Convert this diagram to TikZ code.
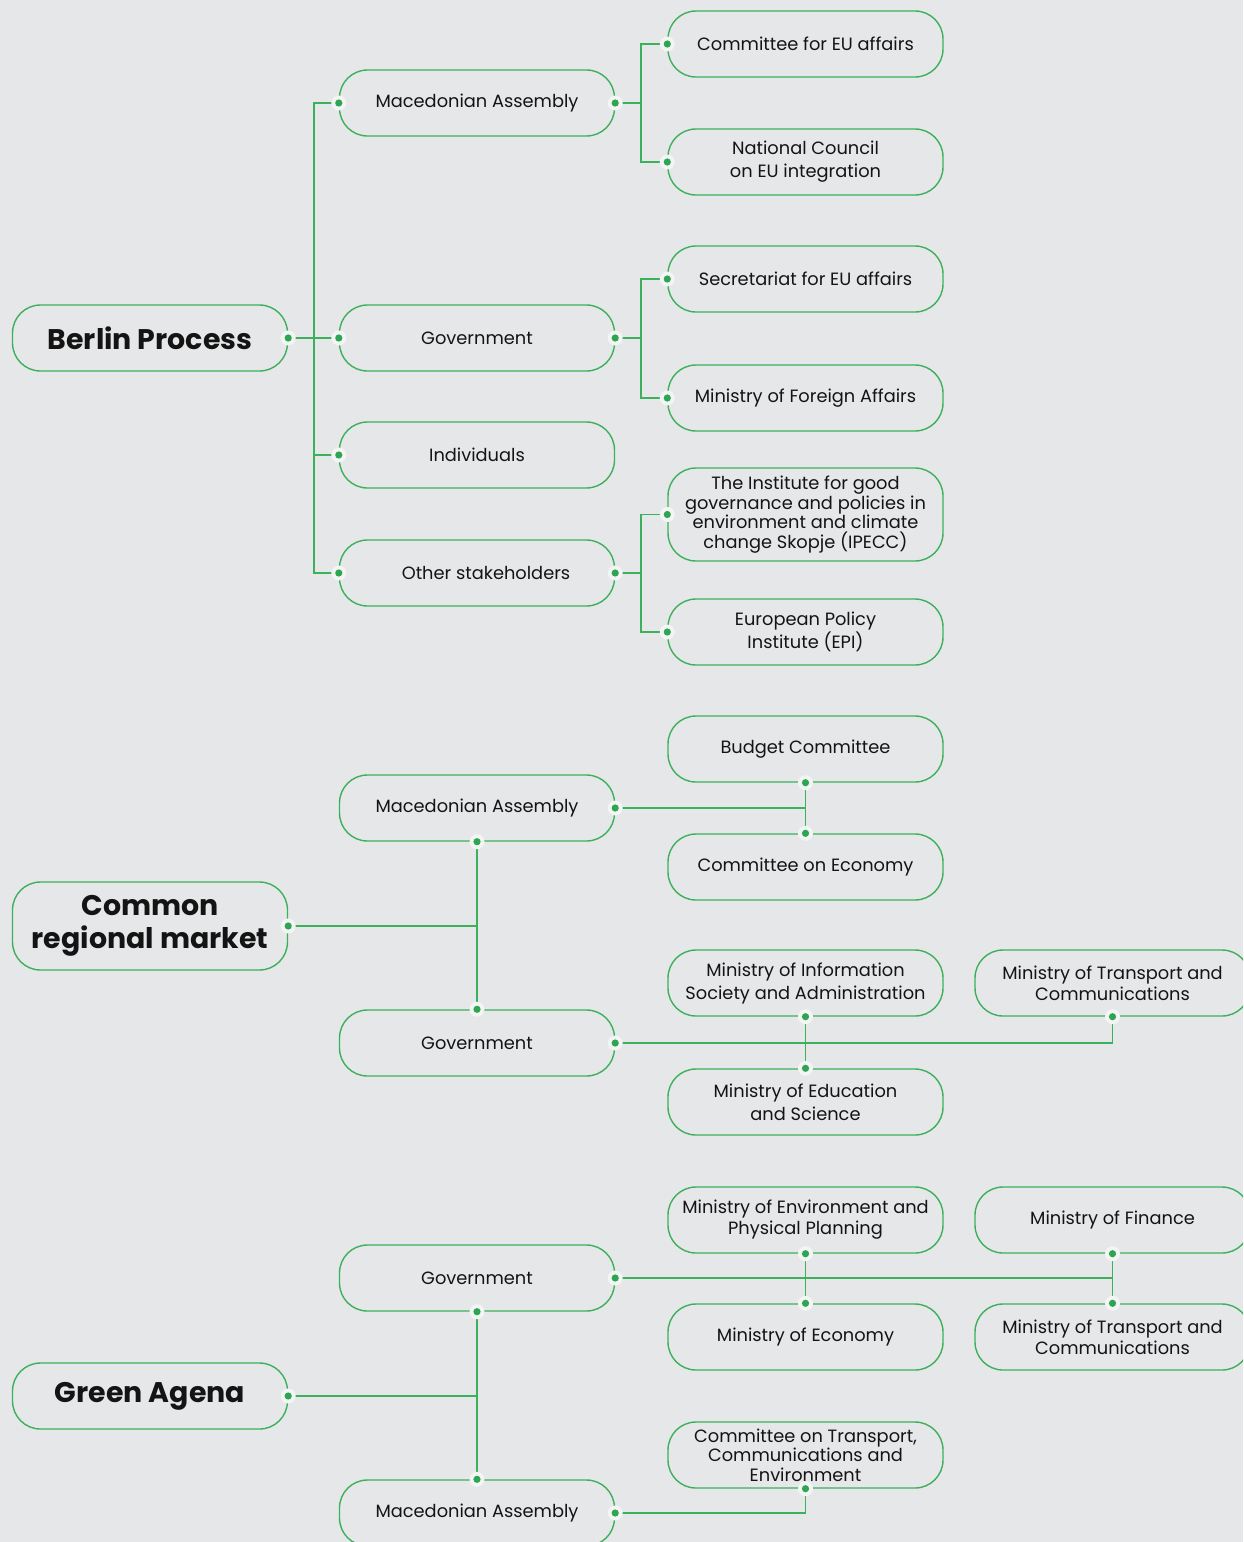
\documentclass[tikz,border=0pt]{standalone}
\usepackage{fontspec}
\setmainfont{Poppins}
\definecolor{bg}{HTML}{E6E7E8}
\definecolor{bordergreen}{HTML}{3DB05C}
\definecolor{dotgreen}{HTML}{2EA552}
\definecolor{halo}{HTML}{F3F4F4}
\definecolor{txt}{HTML}{141414}
\tikzset{
  box/.style={draw=bordergreen, line width=1.4pt, rounded corners=28pt,
    minimum width=275pt, minimum height=66pt, align=center, inner sep=2pt,
    text=txt, font=\fontsize{17.8}{23}\selectfont},
  tightbox/.style={box, font=\fontsize{17.8}{19.5}\selectfont},
  midbox/.style={box, font=\fontsize{17.8}{21}\selectfont},
  titlebox/.style={box, font=\fontsize{28.4}{33}\selectfont\bfseries},
  conn/.style={draw=bordergreen, line width=1.3pt},
}
\begin{document}
\begin{tikzpicture}[x=1pt,y=-1pt]
\fill[bg] (0,0) rectangle (1243,1542);
\useasboundingbox (0,0) rectangle (1243,1542);
\clip (0,0) rectangle (1243,1542);

% ---------- Berlin Process ----------
\node[titlebox] (BP) at (150,338) {Berlin Process};
\node[box] (MA1) at (477,103) {Macedonian Assembly};
\node[box] (Gov1) at (477,338) {Government};
\node[box] (Ind) at (477,455) {Individuals};
\node[box] (Oth) at (477,573) {\hspace*{18pt}Other stakeholders};
\node[box] (C1) at (805.5,44) {Committee for EU affairs};
\node[box] (NC) at (805.5,162) {National Council\\on EU integration};
\node[box] (Sec) at (805.5,279) {Secretariat for EU affairs};
\node[box] (MFA) at (805.5,398) {Ministry of Foreign Affairs};
\node[tightbox, minimum height=93pt] (IP) at (805.5,514.5) {The Institute for good\\governance and policies in\\environment and climate\\change Skopje (IPECC)};
\node[box] (EPI) at (805.5,632) {European Policy\\Institute (EPI)};

\coordinate (t1) at (314,338);
\draw[conn] (BP.east) -- (Gov1.west);
\draw[conn] (MA1.west) -| (t1) |- (Oth.west);
\draw[conn] (Ind.west) -- (Ind.west -| t1);

\coordinate (ta) at (641,103);
\coordinate (tb) at (641,338);
\coordinate (tc) at (641,573);
\draw[conn] (MA1.east) -- (ta);
\draw[conn] (C1.west) -| (ta) |- (NC.west);
\draw[conn] (Gov1.east) -- (tb);
\draw[conn] (Sec.west) -| (tb) |- (MFA.west);
\draw[conn] (Oth.east) -- (tc);
\draw[conn] (IP.west) -| (tc) |- (EPI.west);

% ---------- Common regional market ----------
\node[titlebox, minimum height=88pt] (CRM) at (150,926) {Common\\regional market};
\node[box] (MA2) at (477,808) {Macedonian Assembly};
\node[box] (Gov2) at (477,1043) {Government};
\node[box] (Bud) at (805.5,749) {Budget Committee};
\node[box] (CEc) at (805.5,867) {Committee on Economy};
\node[box] (MISA) at (805.5,983) {Ministry of Information\\Society and Administration};
\node[box] (MES) at (805.5,1102) {Ministry of Education\\and Science};
\node[midbox] (MTC1) at (1112.5,983) {Ministry of Transport and\\Communications};

\draw[conn] (CRM.east) -- (CRM.east -| MA2.south);
\draw[conn] (MA2.south) -- (Gov2.north);
\draw[conn] (MA2.east) -- (MA2.east -| Bud.south);
\draw[conn] (Bud.south) -- (CEc.north);
\draw[conn] (Gov2.east) -| (MTC1.south);
\draw[conn] (MISA.south) -- (MES.north);

% ---------- Green Agena ----------
\node[titlebox] (GA) at (150,1396) {Green Agena};
\node[box] (Gov3) at (477,1278) {Government};
\node[box] (MA3) at (477,1513) {Macedonian Assembly};
\node[midbox] (MEPP) at (805.5,1220) {Ministry of Environment and\\Physical Planning};
\node[box] (MF) at (1112.5,1220) {Ministry of Finance};
\node[box] (MEc) at (805.5,1337) {Ministry of Economy};
\node[midbox] (MTC2) at (1112.5,1337) {Ministry of Transport and\\Communications};
\node[tightbox] (CT) at (805.5,1455) {Committee on Transport,\\Communications and\\Environment};

\draw[conn] (GA.east) -- (GA.east -| Gov3.south);
\draw[conn] (Gov3.south) -- (MA3.north);
\draw[conn] (Gov3.east) -- (Gov3.east -| MF.south);
\draw[conn] (MEPP.south) -- (MEc.north);
\draw[conn] (MF.south) -- (MTC2.north);
\draw[conn] (MA3.east) -| (CT.south);

% ---------- dots ----------
\foreach \p in {BP.east, MA1.west, Gov1.west, Ind.west, Oth.west,
  MA1.east, Gov1.east, Oth.east, C1.west, NC.west, Sec.west, MFA.west, IP.west, EPI.west,
  CRM.east, MA2.south, MA2.east, Gov2.north, Gov2.east, Bud.south, CEc.north,
  MISA.south, MES.north, MTC1.south,
  GA.east, Gov3.south, Gov3.east, MA3.north, MA3.east, MEPP.south, MEc.north,
  MF.south, MTC2.north, CT.south}{
  \fill[halo] (\p) circle (7.5pt);
  \fill[dotgreen] (\p) circle (3.6pt);
}
\end{tikzpicture}
\end{document}
